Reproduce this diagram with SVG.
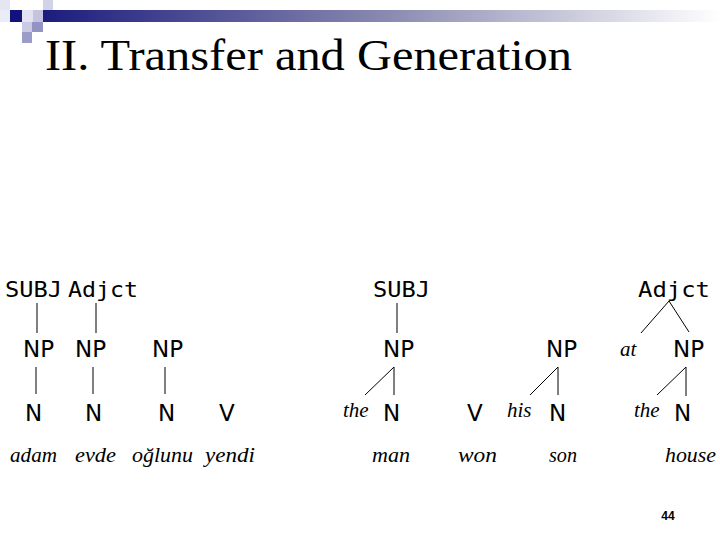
<svg xmlns="http://www.w3.org/2000/svg" width="720" height="540" viewBox="0 0 720 540">
<defs>
<linearGradient id="bar" x1="0" y1="0" x2="1" y2="0">
<stop offset="0" stop-color="#1c1c7e"/>
<stop offset="0.5" stop-color="#8888b0"/>
<stop offset="1" stop-color="#ffffff"/>
</linearGradient>
<style>
.lab{font-family:"DejaVu Sans Mono","Liberation Mono",monospace;font-size:21px;fill:#000}
.cat{font-family:"DejaVu Sans","Liberation Sans",sans-serif;font-size:23px;fill:#000}
.w{font-family:"Liberation Serif","DejaVu Serif",serif;font-style:italic;font-size:21px;fill:#000}
.ln{stroke:#000;stroke-width:1;fill:none}
</style>
</defs>
<rect width="720" height="540" fill="#fff"/>
<g id="decor">
<rect x="0" y="0" width="10" height="10" fill="#e6e6f2"/>
<rect x="0" y="10" width="10" height="12" fill="#ececf6"/>
<rect x="10" y="10" width="12" height="12" fill="#12127c"/>
<rect x="22" y="10" width="11" height="12" fill="#e2e2f0"/>
<rect x="33" y="10" width="10" height="12" fill="#c4c4de"/>
<rect x="43" y="0" width="10" height="10" fill="#d2d2e8"/>
<rect x="22" y="22" width="10" height="10" fill="#cacae4"/>
<rect x="32" y="22" width="11" height="10" fill="#9494c4"/>
<rect x="22" y="32" width="10" height="11" fill="#9c9cc8"/>
<rect x="43" y="10" width="677" height="12" fill="url(#bar)"/>
</g>
<text id="title" x="45" y="70" font-family="'Liberation Serif','DejaVu Serif',serif" font-size="44" textLength="527" lengthAdjust="spacingAndGlyphs" fill="#000">II. Transfer and Generation</text>
<g id="connectors">
<line class="ln" x1="37" y1="303" x2="37" y2="333"/>
<line class="ln" x1="96" y1="303" x2="96" y2="333"/>
<line class="ln" x1="36" y1="367" x2="36" y2="394"/>
<line class="ln" x1="93" y1="367" x2="93" y2="394"/>
<line class="ln" x1="165" y1="367" x2="165" y2="394"/>
<line class="ln" x1="397" y1="303" x2="397" y2="333"/>
<line class="ln" x1="394" y1="367" x2="394" y2="395"/>
<line class="ln" x1="394" y1="367" x2="365" y2="395"/>
<line class="ln" x1="558" y1="367" x2="558" y2="395"/>
<line class="ln" x1="558" y1="367" x2="530" y2="395"/>
<line class="ln" x1="669" y1="301" x2="641" y2="333"/>
<line class="ln" x1="669" y1="301" x2="689" y2="332"/>
<line class="ln" x1="686" y1="367" x2="686" y2="396"/>
<line class="ln" x1="686" y1="367" x2="657" y2="395"/>
</g>
<g id="subj1"><text class="lab" x="5" y="297" textLength="57" lengthAdjust="spacingAndGlyphs">SUBJ</text></g>
<g id="adjct1"><text class="lab" x="68" y="297" textLength="70" lengthAdjust="spacingAndGlyphs">Adjct</text></g>
<g id="subj2"><text class="lab" x="373" y="297" textLength="57" lengthAdjust="spacingAndGlyphs">SUBJ</text></g>
<g id="adjct2"><text class="lab" x="638" y="297" textLength="72" lengthAdjust="spacingAndGlyphs">Adjct</text></g>
<g id="np1"><text class="cat" x="23" y="357">NP</text></g>
<g id="np2"><text class="cat" x="75" y="357">NP</text></g>
<g id="np3"><text class="cat" x="152" y="357">NP</text></g>
<g id="np4"><text class="cat" x="383" y="357">NP</text></g>
<g id="np5"><text class="cat" x="546" y="357">NP</text></g>
<g id="np6"><text class="cat" x="673" y="357">NP</text></g>
<g id="at"><text class="w" x="620" y="356">at</text></g>
<g id="n1"><text class="cat" x="25" y="421">N</text></g>
<g id="n2"><text class="cat" x="85" y="421">N</text></g>
<g id="n3"><text class="cat" x="158" y="421">N</text></g>
<g id="v1"><text class="cat" x="219" y="421">V</text></g>
<g id="the1"><text class="w" x="343" y="417">the</text></g>
<g id="n4"><text class="cat" x="383" y="421">N</text></g>
<g id="v2"><text class="cat" x="467" y="421">V</text></g>
<g id="his"><text class="w" x="507" y="417">his</text></g>
<g id="n5"><text class="cat" x="549" y="421">N</text></g>
<g id="the2"><text class="w" x="634" y="417">the</text></g>
<g id="n6"><text class="cat" x="674" y="421">N</text></g>
<g id="words">
<text class="w" x="10" y="462" textLength="47" lengthAdjust="spacingAndGlyphs">adam</text>
<text class="w" x="75" y="462" textLength="41" lengthAdjust="spacingAndGlyphs">evde</text>
<text class="w" x="132" y="462" textLength="61" lengthAdjust="spacingAndGlyphs">oğlunu</text>
<text class="w" x="205" y="462" textLength="50" lengthAdjust="spacingAndGlyphs">yendi</text>
<text class="w" x="372" y="462" textLength="38" lengthAdjust="spacingAndGlyphs">man</text>
<text class="w" x="458" y="462" textLength="39" lengthAdjust="spacingAndGlyphs">won</text>
<text class="w" x="549" y="462" textLength="28" lengthAdjust="spacingAndGlyphs">son</text>
<text class="w" x="665" y="462" textLength="51" lengthAdjust="spacingAndGlyphs">house</text>
</g>
<text id="page" x="668" y="520" text-anchor="middle" font-family="'Liberation Sans',Arial,sans-serif" font-weight="bold" font-size="12" fill="#000">44</text>
</svg>
